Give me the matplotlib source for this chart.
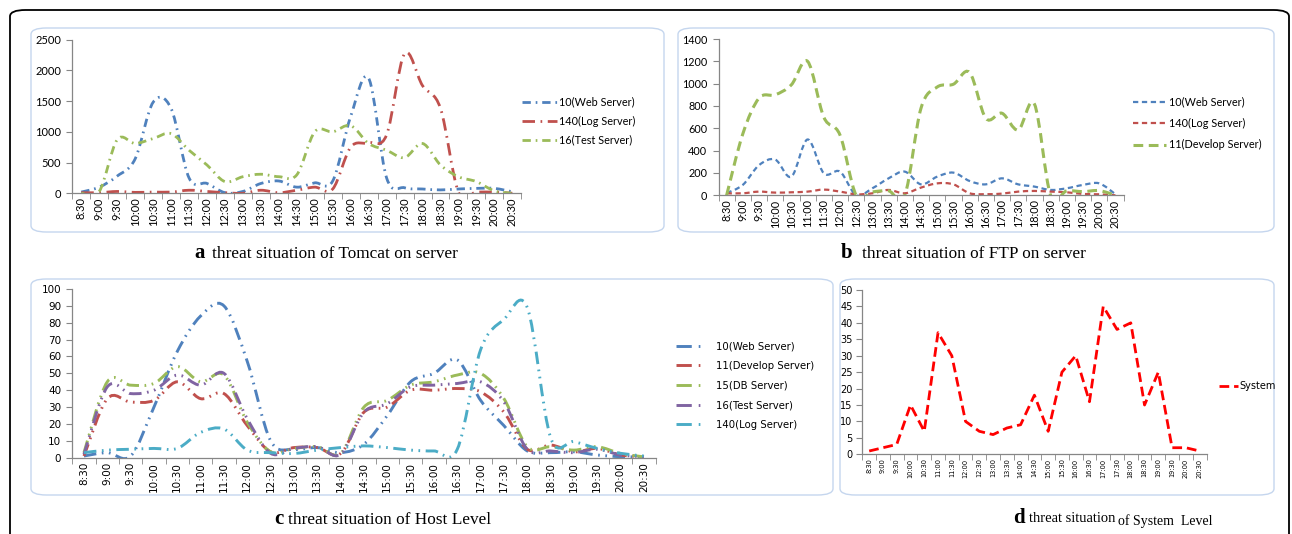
import numpy as np
import matplotlib
matplotlib.use("Agg")
import matplotlib.pyplot as plt
from matplotlib.path import Path
from matplotlib.patches import PathPatch, FancyBboxPatch
from matplotlib.lines import Line2D

plt.rcParams['lines.scale_dashes'] = False

# ---------------- data ----------------
times = ["8:30", "9:00", "9:30", "10:00", "10:30", "11:00", "11:30", "12:00", "12:30",
         "13:00", "13:30", "14:00", "14:30", "15:00", "15:30", "16:00", "16:30", "17:00",
         "17:30", "18:00", "18:30", "19:00", "19:30", "20:00", "20:30"]

# (a) Tomcat
tomcat_web = [20, 100, 280, 560, 1480, 1380, 250, 160, 10, 30, 160, 200, 100, 170, 200,
              1250, 1870, 250, 90, 70, 55, 70, 80, 80, 25]
tomcat_log = [10, 10, 30, 15, 20, 20, 50, 30, 10, 0, 50, 10, 50, 100, 70,
              750, 820, 950, 2270, 1750, 1380, 20, 20, 20, 0]
tomcat_test = [0, 30, 870, 810, 890, 970, 700, 460, 190, 270, 310, 270, 300, 1000, 1000,
               1100, 810, 700, 580, 810, 460, 270, 190, 40, 0]

# (b) FTP
ftp_web = [20, 93, 270, 320, 167, 500, 197, 212, 0, 63, 152, 212, 98, 167, 203,
           128, 98, 152, 98, 78, 48, 63, 93, 107, 10]
ftp_log = [18, 18, 33, 24, 27, 33, 51, 33, 9, 18, 48, 18, 69, 107, 98,
           18, 10, 15, 33, 39, 33, 27, 12, 9, 0]
ftp_dev = [0, 550, 870, 900, 990, 1200, 700, 540, 0, 30, 40, 0, 780, 970, 995,
           1100, 690, 735, 585, 818, 0, 40, 33, 42, 0]

# (c) Host level
host_web = [1, 3, 1, 30, 63, 84, 90, 57, 10, 5, 6, 3, 8, 25, 45, 50, 58, 34, 19, 4, 3, 3.5, 1.6, 0.6, 0.5]
host_dev = [1, 35, 33, 34, 45, 35, 38, 19, 3.5, 6, 6, 2.5, 27, 30, 40, 40, 41, 39, 27, 5, 7.5, 3.5, 5.5, 1.6, 0.6]
host_db = [3, 45, 43, 44, 54, 45, 49, 21, 3.5, 5.5, 6.5, 2.5, 30, 34, 43, 45, 49, 50, 35, 6.5, 6.5, 4.5, 6.5, 2.5, 0.5]
host_test = [2, 42, 38, 40, 49, 43, 50, 23, 2.6, 5.5, 6.5, 2, 27, 32, 42, 43, 44, 45, 33, 5, 4, 3, 5, 1.6, 0.6]
host_log = [3, 4.5, 5, 5.5, 5.5, 15, 17, 4.5, 3, 2.5, 4.5, 6, 7, 6, 4.5, 4, 5, 64, 82, 89, 12, 9.5, 5.5, 2.6, 1]

# (d) System level
system = [1, 2, 3, 15, 7, 37, 30, 10, 7, 6, 8, 9, 18, 7, 25, 30, 16, 45, 38, 40, 15, 25, 2, 2, 1]

BLUE, RED, GREEN, PURPLE, CYAN = "#4F81BD", "#C0504D", "#9BBB59", "#8064A2", "#4BACC6"
W, H = 1292, 534

fig = plt.figure(figsize=(W / 100, H / 100), dpi=100)


def fx(x):
    return x / W


def fy(y):
    return 1 - y / H


def smooth_path(x, y):
    """Excel-style smoothed line (cubic Bezier through every data point)."""
    x = np.asarray(x, float)
    y = np.asarray(y, float)
    n = len(x)
    P = np.column_stack([x, y])
    verts = [P[0]]
    codes = [Path.MOVETO]
    for i in range(n - 1):
        p0 = P[i - 1] if i > 0 else P[i]
        p1 = P[i]
        p2 = P[i + 1]
        p3 = P[i + 2] if i + 2 < n else P[i + 1]
        c1 = p1 + (p2 - p0) / 6.0
        c2 = p2 - (p3 - p1) / 6.0
        verts += [c1, c2, p2]
        codes += [Path.CURVE4] * 3
    return Path(verts, codes)


def draw_curve(ax, y, color, lw, ls):
    xs = np.arange(len(y))
    patch = PathPatch(smooth_path(xs, y), fill=False, edgecolor=color, lw=lw,
                      linestyle=ls, transform=ax.transData, capstyle='butt')
    ax.add_patch(patch)


def panel_box(x0, y0, x1, y1):
    fig.patches.append(FancyBboxPatch((fx(x0), fy(y1)), fx(x1 - x0), (y1 - y0) / H,
                                      boxstyle="round,pad=0,rounding_size=0.012",
                                      transform=fig.transFigure, fill=False,
                                      edgecolor="#C5D6EE", lw=1.0, zorder=0))


def style_axes(ax, ymax, ystep, ypad=4, xpad=3):
    ax.set_xlim(-0.5, len(times) - 0.5)
    ax.set_ylim(0, ymax)
    for s in ("top", "right"):
        ax.spines[s].set_visible(False)
    for s in ("left", "bottom"):
        ax.spines[s].set_color("#868686")
        ax.spines[s].set_linewidth(0.9)
    ax.set_yticks(np.arange(0, ymax + ystep / 2, ystep))
    ax.set_xticks(np.arange(len(times)))
    ax.set_xticks(np.arange(-0.5, len(times), 1.0), minor=True)
    ax.tick_params(axis='x', which='major', length=0, pad=xpad)
    ax.tick_params(axis='x', which='minor', length=4, color="#868686", direction='out')
    ax.tick_params(axis='y', which='major', length=4, color="#868686", direction='out', pad=ypad)
    ax.patch.set_alpha(0)


# outer frame
fig.patches.append(FancyBboxPatch((fx(10), fy(560)), fx(1279), 550 / H,
                                  boxstyle="round,pad=0,rounding_size=0.012",
                                  transform=fig.transFigure, fill=False,
                                  edgecolor="black", lw=1.3, zorder=0))

panel_box(31, 28, 664, 232)
panel_box(678, 28, 1274, 232)
panel_box(31, 279, 833, 495)
panel_box(840, 279, 1274, 495)

FA = ["Lato", "DejaVu Sans"]
SERIF = "Liberation Serif"
CAP = 12.4

# ---------------- (a) ----------------
axa = fig.add_axes([fx(72.3), fy(193.3), fx(449), 153.8 / H])
style_axes(axa, 2500, 500)
sty_a = [(tomcat_web, BLUE, (0, (6, 3.5, 1.2, 3.5))),
         (tomcat_log, RED, (0, (9, 4, 1.2, 4))),
         (tomcat_test, GREEN, (0, (6, 3.5, 1.2, 3.5)))]
for y, c, ls in sty_a:
    draw_curve(axa, y, c, 2.0, ls)
axa.set_xticklabels(times, rotation=90, fontsize=8, family=FA)
axa.set_yticklabels([str(v) for v in range(0, 2501, 500)], fontsize=8, family=FA)
fig.legend([Line2D([], [], color=c, lw=2.0, ls=ls) for _, c, ls in sty_a],
           ["10(Web Server)", "140(Log Server)", "16(Test Server)"],
           loc="center left", bbox_to_anchor=(fx(522), fy(121)), frameon=False,
           borderpad=0, borderaxespad=0, handlelength=3.2, handletextpad=0.2,
           labelspacing=0.75, prop={"family": FA, "size": 7.8})
fig.text(fx(200), fy(253), "a", fontsize=15, fontweight="bold", family=SERIF,
         ha="center", va="center")
fig.text(fx(212), fy(254), "threat situation of Tomcat on server", fontsize=CAP,
         family=SERIF, ha="left", va="center")

# ---------------- (b) ----------------
axb = fig.add_axes([fx(718.5), fy(195.3), fx(405), 156.3 / H])
style_axes(axb, 1400, 200)
sty_b = [(ftp_web, BLUE, 1.6, (0, (3.8, 2.6))),
         (ftp_log, RED, 1.6, (0, (3.8, 2.6))),
         (ftp_dev, GREEN, 2.2, (0, (7, 4)))]
for y, c, lw, ls in sty_b:
    draw_curve(axb, y, c, lw, ls)
axb.set_xticklabels(times, rotation=90, fontsize=7.8, family=FA)
axb.set_yticklabels([str(v) for v in range(0, 1401, 200)], fontsize=7.8, family=FA)
fig.legend([Line2D([], [], color=c, lw=lw, ls=ls) for _, c, lw, ls in sty_b],
           ["10(Web Server)", "140(Log Server)", "11(Develop Server)"],
           loc="center left", bbox_to_anchor=(fx(1133), fy(123.5)), frameon=False,
           borderpad=0, borderaxespad=0, handlelength=3.0, handletextpad=0.3,
           labelspacing=0.95, prop={"family": FA, "size": 7.8})
fig.text(fx(847), fy(253), "b", fontsize=15, fontweight="bold", family=SERIF,
         ha="center", va="center")
fig.text(fx(862), fy(254), "threat situation of FTP on server", fontsize=CAP,
         family=SERIF, ha="left", va="center")

# ---------------- (c) ----------------
axc = fig.add_axes([fx(72.3), fy(457.7), fx(583.3), 168.7 / H])
style_axes(axc, 100, 10)
sty_c = [(host_web, BLUE), (host_dev, RED), (host_db, GREEN), (host_test, PURPLE), (host_log, CYAN)]
ls_c = (0, (9, 4, 1.2, 4, 1.2, 4))
for y, c in sty_c:
    draw_curve(axc, y, c, 2.1, ls_c)
axc.set_xticklabels(times, rotation=90, fontsize=7.5, family="DejaVu Sans")
axc.set_yticklabels([str(v) for v in range(0, 101, 10)], fontsize=7.5, family="DejaVu Sans")
fig.legend([Line2D([], [], color=c, lw=2.1, ls=(0, (11, 5, 1.2, 30))) for _, c in sty_c],
           ["10(Web Server)", "11(Develop Server)", "15(DB Server)", "16(Test Server)", "140(Log Server)"],
           loc="center left", bbox_to_anchor=(fx(676), fy(385.5)), frameon=False,
           borderpad=0, borderaxespad=0, handlelength=3.5, handletextpad=0.4,
           labelspacing=0.95, prop={"family": "DejaVu Sans", "size": 7.3})
fig.text(fx(279), fy(519), "c", fontsize=15, fontweight="bold", family=SERIF,
         ha="center", va="center")
fig.text(fx(288), fy(520), "threat situation of Host Level", fontsize=CAP,
         family=SERIF, ha="left", va="center")

# ---------------- (d) ----------------
axd = fig.add_axes([fx(862.3), fy(454.3), fx(344.2), 164.3 / H])
style_axes(axd, 50, 5, ypad=3, xpad=3)
axd.plot(np.arange(len(system)), system, color="#FF0000", lw=2.0, ls=(0, (7, 3.5)),
         solid_capstyle='butt', dash_capstyle='butt')
axd.set_xticklabels(times, rotation=90, fontsize=4.8, family="DejaVu Sans")
axd.set_yticklabels([str(v) for v in range(0, 51, 5)], fontsize=7,
                    family=["Liberation Sans Narrow", "DejaVu Sans"])
fig.legend([Line2D([], [], color="#FF0000", lw=2.0, ls=(0, (7, 3.5)))], ["System"],
           loc="center left", bbox_to_anchor=(fx(1219), fy(386)), frameon=False,
           borderpad=0, borderaxespad=0, handlelength=2.0, handletextpad=0.1,
           prop={"family": ["Liberation Sans Narrow", "DejaVu Sans"], "size": 7})
fig.text(fx(1019), fy(518), "d", fontsize=15, fontweight="bold", family=SERIF,
         ha="center", va="center")
fig.text(fx(1029), fy(518), "threat situation", fontsize=10.5,
         family=SERIF, ha="left", va="center")
fig.text(fx(1118), fy(521), "of System  Level", fontsize=10,
         family=SERIF, ha="left", va="center")

fig.savefig("out.png", dpi=100)
